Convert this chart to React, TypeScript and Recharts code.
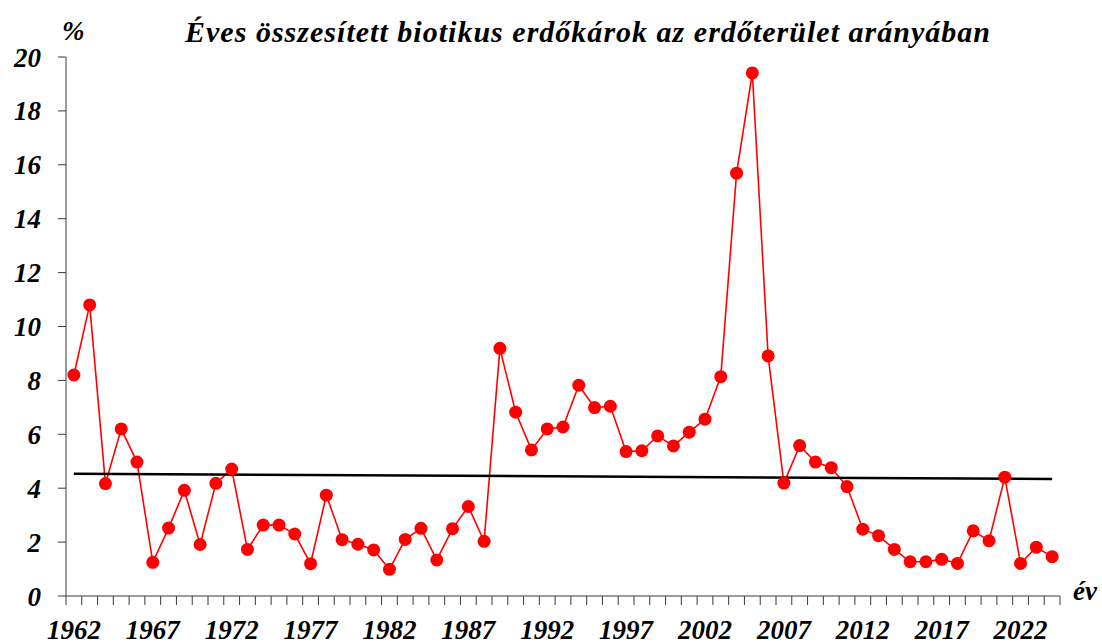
import React from 'react'
import { LineChart, Line, XAxis, YAxis, ReferenceLine } from 'recharts'

const years = [
  1962, 1963, 1964, 1965, 1966, 1967, 1968, 1969, 1970, 1971,
  1972, 1973, 1974, 1975, 1976, 1977, 1978, 1979, 1980, 1981,
  1982, 1983, 1984, 1985, 1986, 1987, 1988, 1989, 1990, 1991,
  1992, 1993, 1994, 1995, 1996, 1997, 1998, 1999, 2000, 2001,
  2002, 2003, 2004, 2005, 2006, 2007, 2008, 2009, 2010, 2011,
  2012, 2013, 2014, 2015, 2016, 2017, 2018, 2019, 2020, 2021,
  2022, 2023, 2024,
]

const damage = [
  8.2, 10.8, 4.17, 6.2, 4.97, 1.25, 2.52, 3.92, 1.91, 4.18,
  4.71, 1.73, 2.63, 2.63, 2.3, 1.2, 3.74, 2.09, 1.92, 1.71,
  0.99, 2.1, 2.51, 1.34, 2.5, 3.32, 2.03, 9.19, 6.82, 5.42,
  6.2, 6.27, 7.82, 6.99, 7.04, 5.36, 5.39, 5.94, 5.57, 6.08,
  6.56, 8.14, 15.69, 19.41, 8.91, 4.19, 5.58, 4.97, 4.76, 4.06,
  2.48, 2.24, 1.73, 1.27, 1.27, 1.36, 1.21, 2.42, 2.05, 4.41,
  1.21, 1.81, 1.46,
]

// trend line end values (first and last year)
const trendEnds = [4.54, 4.34]

const labelYears = [1962, 1967, 1972, 1977, 1982, 1987, 1992, 1997, 2002, 2007, 2012, 2017, 2022]
const yTicks = [0, 2, 4, 6, 8, 10, 12, 14, 16, 18, 20]

const title = 'Éves összesített biotikus erdőkárok az erdőterület arányában'

const W = 1102
const H = 643
const margin = { top: 57, right: 42, bottom: 0, left: 0 }
const yAxisW = 66
const axisGrey = '#3a3a3a'

const data = years.map((year, i) => ({ year, value: damage[i] }))
const first = years[0]
const last = years[years.length - 1]
const xDomain = [first - 0.5, last + 0.5]
// tick marks sit between the years, labels in the middle of a year
const boundaryTicks = [...years.map((y) => y - 0.5), last + 0.5]
const halfBand = (W - margin.left - margin.right - yAxisW) / years.length / 2

const textCss = { fontFamily: "'Liberation Serif', 'Times New Roman', serif", fontWeight: 700, fontStyle: 'italic' } as const
const tickStyle = { fill: '#000', fontSize: 27, style: textCss }

function YearTick(props: any) {
  const { x, y, payload } = props
  const year = payload.value + 0.5
  if (!labelYears.includes(year)) return <g />
  return (
    <text x={x + halfBand} y={y} dy="0.71em" textAnchor="middle" fontSize={27} fill="#000" style={textCss}>
      {year}
    </text>
  )
}

export default function App() {
  return (
    <div style={{ position: 'relative', width: W, height: H, background: '#fff' }}>
      <style>{'body{margin:0}'}</style>
      <LineChart width={W} height={H} data={data} margin={margin}>
        <YAxis
          type="number"
          domain={[0, 20]}
          ticks={yTicks}
          interval={0}
          width={yAxisW}
          tickSize={8}
          tickMargin={17}
          stroke={axisGrey}
          tick={tickStyle}
          allowDataOverflow
        />
        <XAxis
          dataKey="year"
          type="number"
          domain={xDomain}
          ticks={boundaryTicks}
          interval={0}
          tick={<YearTick />}
          axisLine={{ stroke: axisGrey }}
          tickLine={{ stroke: axisGrey }}
          tickSize={9}
          tickMargin={15}
          height={47}
          stroke={axisGrey}
          allowDataOverflow
        />
        <Line
          dataKey="value"
          stroke="#ff0000"
          strokeWidth={1.6}
          dot={{ r: 6.5, fill: '#ff0000', stroke: 'none' }}
          isAnimationActive={false}
        />
        <ReferenceLine
          segment={[{ x: first, y: trendEnds[0] }, { x: last, y: trendEnds[1] }]}
          stroke="#000"
          strokeWidth={2.5}
          ifOverflow="visible"
        />
      </LineChart>
      <svg width={W} height={H} style={{ position: 'absolute', left: 0, top: 0, pointerEvents: 'none' }}>
        <g style={textCss} fill="#000">
          <text x={62} y={40} fontSize={27}>%</text>
          <text x={185} y={42} fontSize={30} textLength={805} lengthAdjust="spacing">{title}</text>
          <text x={1073} y={600} fontSize={27}>év</text>
        </g>
      </svg>
    </div>
  )
}
